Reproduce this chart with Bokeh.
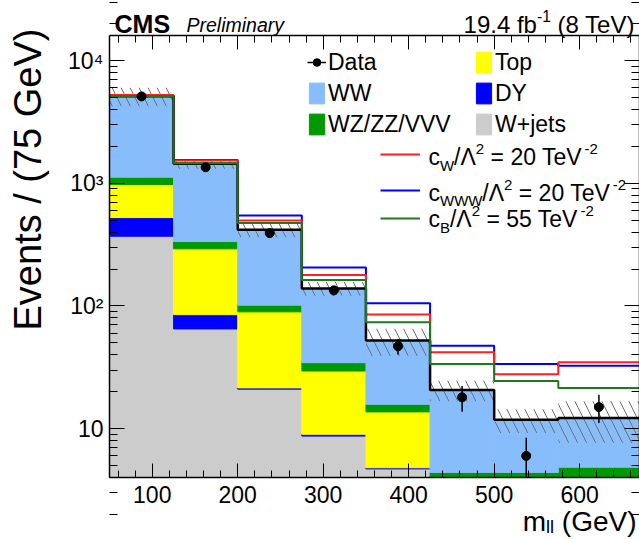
import math
from bokeh.plotting import figure
from bokeh.models import (Label, Legend, LegendItem, LinearAxis, LogAxis, FixedTicker,
                          CustomJSTickFormatter)
from bokeh.embed import file_html
from bokeh.resources import INLINE

# ---------------- data ----------------
bin_edges = [50, 125, 200, 275, 350, 425, 500, 575, 670]
wjets = [370, 65, 21, 8.7, 4.7, 1.2, 1.0, 1.0]
dy = [155, 20, 0.5, 0.3, 0.1, 0.1, 0.1, 0.1]
top = [450, 207, 68, 20.5, 8.9, 2.5, 2.2, 2.3]
vv = [145, 43, 12, 5.0, 2.1, 0.6, 1.1, 1.45]
ww = [4000, 1105, 316, 104.5, 36.4, 16.3, 7.4, 7.35]
data = [5100, 1350, 392, 134, 47, 18, 6, 15]
bkg_unc = [0.17, 0.09, 0.13, 0.13, 0.25, 0.19, 0.22, 0.37]
aqgc_cw = [5250, 1530, 497, 179, 85, 42, 27.7, 34.8]
aqgc_cwww = [5130, 1545, 545, 206, 105, 47.3, 33.7, 32.5]
aqgc_cb = [5140, 1455, 475, 163, 73.6, 33.7, 24.5, 21.5]
x_ticks = [100, 200, 300, 400, 500, 600]
y_ticks = [10, 100, 1000, 10000]
y_tick_labels = ["10", "10\u00b2", "10\u00b3", "10\u2074"]

stack_names = ["W+jets", "DY", "Top", "WZ/ZZ/VVV", "WW"]
stack_values = [wjets, dy, top, vv, ww]
stack_colors = ["#CCCCCC", "#0000FF", "#FFFF00", "#009900", "#88BDFC"]

# visible axis box and its place on the canvas
X_LO, X_HI = bin_edges[0], bin_edges[-1]
Y_LO, Y_HI = 4, 16000
FONT = "Liberation Sans"
W, H = 639, 539
FL, FR, FT, FB = 109, 639, 35, 477
DESC = 0.22   # baseline correction (fraction of font size)

# the plot frame covers the whole canvas; the axes are drawn at fixed places inside it
kx = (FR - FL) / (X_HI - X_LO)
x_start = X_LO - FL / kx
x_end = X_HI + (W - FR) / kx
ky = (FB - FT) / math.log10(Y_HI / Y_LO)
y_start = 10 ** (math.log10(Y_LO) - (H - FB) / ky)
y_end = 10 ** (math.log10(Y_HI) + FT / ky)

p = figure(width=W, height=H, x_range=(x_start, x_end), y_range=(y_start, y_end),
           y_axis_type="log", x_axis_location=None, y_axis_location=None,
           output_backend="svg", toolbar_location=None,
           min_border_left=0, min_border_right=0, min_border_top=0, min_border_bottom=0)
p.grid.visible = False
p.background_fill_color = "white"
p.border_fill_color = "white"
p.outline_line_color = None

left = bin_edges[:-1]
right = bin_edges[1:]
centers = [(a + b) / 2 for a, b in zip(left, right)]

def clamp(v):
    return [min(max(x, Y_LO), Y_HI) for x in v]

# stacked histogram
stack_renderers = {}
cum = [0.0] * len(left)
for name, vals, col in zip(stack_names, stack_values, stack_colors):
    newcum = [c + v for c, v in zip(cum, vals)]
    r = p.quad(left=left, right=right, bottom=clamp(cum), top=clamp(newcum),
               fill_color=col, line_color=col, line_width=1)
    stack_renderers[name] = r
    cum = newcum
total = cum

# uncertainty band
p.quad(left=left, right=right,
       bottom=clamp([t * (1 - e) for t, e in zip(total, bkg_unc)]),
       top=clamp([t * (1 + e) for t, e in zip(total, bkg_unc)]),
       fill_alpha=0, line_alpha=0, hatch_pattern="\\", hatch_color="#707070",
       hatch_scale=18, hatch_weight=1)

def step_y(v):
    return list(v) + [v[-1]]

r_cwww = p.step(x=bin_edges, y=step_y(aqgc_cwww), mode="after", line_color="#0000FF", line_width=2)
r_cw = p.step(x=bin_edges, y=step_y(aqgc_cw), mode="after", line_color="#FF2020", line_width=2)
p.step(x=bin_edges, y=step_y(total), mode="after", line_color="black", line_width=2.5)
r_cb = p.step(x=bin_edges, y=step_y(aqgc_cb), mode="after", line_color="#1E7A1E", line_width=2)

# data
errs = [math.sqrt(d) for d in data]
r_err = p.segment(x0=centers, y0=clamp([d - e for d, e in zip(data, errs)]),
                  x1=centers, y1=clamp([d + e for d, e in zip(data, errs)]),
                  line_color="black", line_width=1.5)
r_pts = p.scatter(x=centers, y=data, size=9, color="black")

# ---------------- axes ----------------
xticker = FixedTicker(ticks=x_ticks, minor_ticks=list(range(60, 670, 20)))
yticker = FixedTicker(ticks=y_ticks,
                      minor_ticks=[m * 10 ** k for k in range(0, 5) for m in range(2, 10)])

def style_axis(ax, major, minor, labels=True):
    ax.axis_line_color = "black"
    ax.axis_line_width = 1.5
    ax.major_tick_in = major
    ax.major_tick_out = 0
    ax.minor_tick_in = minor
    ax.minor_tick_out = 0
    ax.major_tick_line_color = "black"
    ax.minor_tick_line_color = "black"
    ax.major_tick_line_width = 1
    ax.minor_tick_line_width = 1
    ax.major_label_text_font = FONT
    ax.major_label_text_font_size = "23px"
    ax.major_label_text_color = "black"
    if not labels:
        ax.formatter = CustomJSTickFormatter(code="return ''")
        ax.major_label_standoff = 0

xa = LinearAxis(ticker=xticker, fixed_location=Y_LO, bounds=(X_LO, X_HI))
style_axis(xa, 14, 7)
xa.major_label_standoff = 8
p.add_layout(xa, "below")

ya = LogAxis(ticker=yticker, fixed_location=X_LO, bounds=(Y_LO, Y_HI))
style_axis(ya, 15, 8)
ya.major_label_standoff = 6
ya.major_label_overrides = {t: s for t, s in zip(y_ticks, y_tick_labels)}
p.add_layout(ya, "left")

ta = LinearAxis(ticker=xticker, fixed_location=Y_HI, bounds=(X_LO, X_HI))
style_axis(ta, 14, 7, labels=False)
p.add_layout(ta, "above")
ra = LogAxis(ticker=yticker, fixed_location=X_HI, bounds=(Y_LO, Y_HI))
style_axis(ra, 15, 8, labels=False)
p.add_layout(ra, "right")

# ---------------- text helpers ----------------
WID = {' ': 278, '(': 333, ')': 333, '-': 333, '.': 278, '/': 278, '=': 584, '+': 584,
       'B': 667, 'C': 722, 'D': 722, 'E': 667, 'G': 778, 'M': 833, 'P': 667, 'S': 667,
       'T': 611, 'V': 667, 'W': 944, 'Z': 611, '\u039b': 667,
       'a': 556, 'b': 556, 'c': 500, 'e': 556, 'f': 278, 'i': 222, 'j': 222, 'l': 222,
       'm': 833, 'n': 556, 'o': 556, 'p': 556, 'r': 333, 's': 500, 't': 278, 'v': 500, 'y': 500}
for d in "0123456789":
    WID[d] = 556

def tw(s, size):
    return sum(WID.get(ch, 556) for ch in s) * size / 1000.0

def rich(px, py, segs, size, align="left", style="normal", small=0.65, sub_dy=0.27, sup_dy=0.43):
    parts = []
    total_w = 0.0
    for txt, kind in segs:
        fs = size if kind == "n" else size * small
        w = tw(txt, fs)
        parts.append((txt, kind, fs, w))
        total_w += w
    x = px - total_w if align == "right" else px
    for txt, kind, fs, w in parts:
        dyy = 0.0
        if kind == "sup":
            dyy = -sup_dy * size
        elif kind == "sub":
            dyy = sub_dy * size
        lead = len(txt) - len(txt.lstrip(" "))
        xs = x + tw(" " * lead, fs)
        base = py + dyy - DESC * fs
        p.add_layout(Label(x=xs, y=H - base, x_units="screen", y_units="screen",
                           text=txt.strip(" "), text_font=FONT, text_font_size=f"{fs:.1f}px",
                           text_font_style=style, text_align="left",
                           text_baseline="alphabetic", text_color="black"))
        x += w

# header
rich(114, 29, [("CMS", "n")], 25, style="bold")
rich(186, 29, [("Preliminary", "n")], 19.5, style="italic")
rich(637, 29, [("19.4 fb", "n"), ("-1", "sup"), (" (8 TeV)", "n")], 24, align="right")

# axis titles
YT = 38
p.add_layout(Label(x=36 - DESC * YT, y=H - 28, x_units="screen", y_units="screen",
                   text="Events / (75 GeV)", angle=math.pi / 2, text_align="right",
                   text_baseline="alphabetic", text_font=FONT, text_font_size=f"{YT}px",
                   text_color="black"))
rich(636, 527, [("m", "n"), ("ll", "sub"), (" (GeV)", "n")], 28, align="right", sub_dy=0.14)

# ---------------- legends ----------------
def make_legend(items, x, y, gw=19, gh=26, spacing=3, lh=28):
    lg = Legend(items=items, location=(x, y), orientation="vertical",
                background_fill_alpha=0, border_line_alpha=0, padding=0, margin=0,
                spacing=spacing, glyph_width=gw, glyph_height=gh, label_height=lh,
                label_standoff=2, label_text_font=FONT, label_text_font_size="23px",
                label_text_color="black")
    p.add_layout(lg)
    return lg

col1 = [LegendItem(label="Data", renderers=[r_err, r_pts]),
        LegendItem(label="WW", renderers=[stack_renderers["WW"]]),
        LegendItem(label="WZ/ZZ/VVV", renderers=[stack_renderers["WZ/ZZ/VVV"]])]
col2 = [LegendItem(label="Top", renderers=[stack_renderers["Top"]]),
        LegendItem(label="DY", renderers=[stack_renderers["DY"]]),
        LegendItem(label="W+jets", renderers=[stack_renderers["W+jets"]])]
make_legend(col1, 307, H - 138)
make_legend(col2, 474, H - 138)

for r, cy in [(r_cw, 153), (r_cwww, 189), (r_cb, 217)]:
    make_legend([LegendItem(label=" ", renderers=[r])], 380, H - (cy + 15),
                gw=40, gh=26, spacing=0, lh=28)

rich(428, 162, [("c", "n"), ("W", "sub"), ("/\u039b", "n"), ("2", "sup"),
                (" = 20 TeV", "n"), ("-2", "sup")], 23)
rich(428, 197.5, [("c", "n"), ("WWW", "sub"), ("/\u039b", "n"), ("2", "sup"),
                  (" = 20 TeV", "n"), ("-2", "sup")], 23)
rich(428, 224, [("c", "n"), ("B", "sub"), ("/\u039b", "n"), ("2", "sup"),
                (" = 55 TeV", "n"), ("-2", "sup")], 23)

open("out.html", "w").write(file_html(p, INLINE))
